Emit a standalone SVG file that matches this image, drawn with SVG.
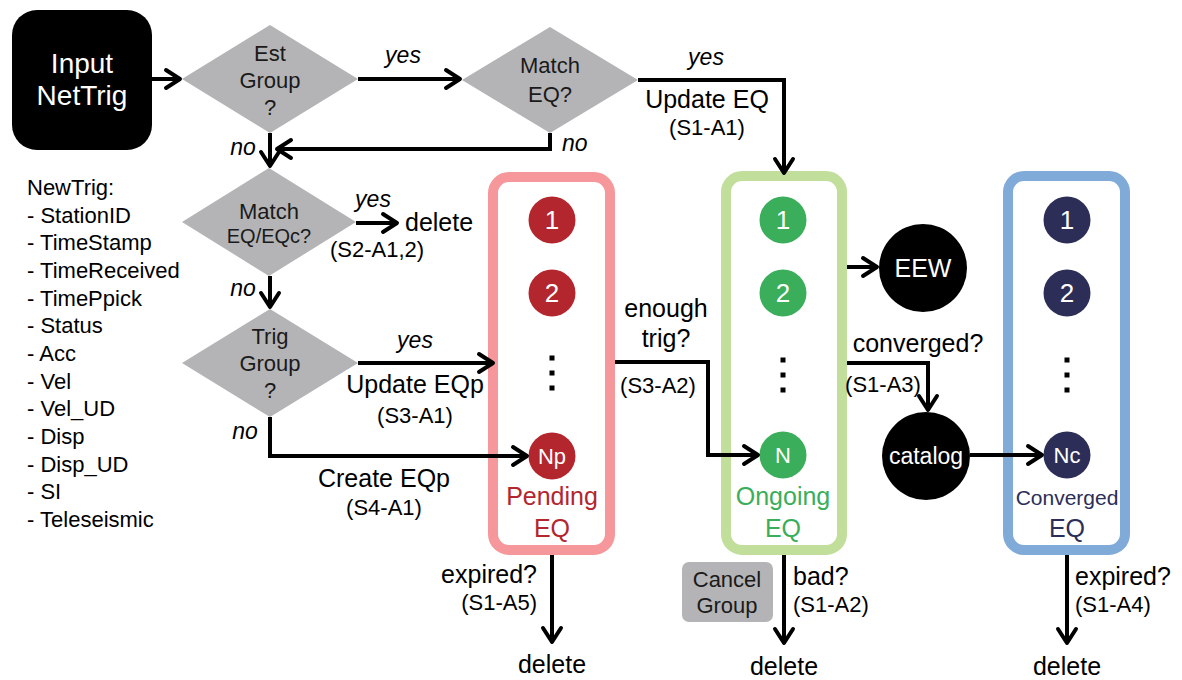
<svg xmlns="http://www.w3.org/2000/svg" width="1182" height="680" viewBox="0 0 1182 680">
<defs>
<marker id="arr" markerUnits="userSpaceOnUse" viewBox="-17 -12 19 24" markerWidth="19" markerHeight="24" refX="0" refY="0" orient="auto" overflow="visible">
<path d="M-14,-9 L0,0 L-14,9" fill="none" stroke="#000" stroke-width="4" stroke-linecap="round" stroke-linejoin="round"/>
</marker>
<style>
text{font-family:"Liberation Sans",Arial,sans-serif;fill:#000}
.c{text-anchor:middle}
.e{text-anchor:end}
.dia{fill:#b4b4b6}
.dt{font-size:22px;fill:#1a1a1a;text-anchor:middle}
.lbl{font-size:25px}
.ref{font-size:22px}
.it{font-size:23px;font-style:italic}
.w{fill:#fff;text-anchor:middle}
.ln{fill:none;stroke:#000;stroke-width:4;marker-end:url(#arr)}
.pk{fill:#b3262e}
.gr{fill:#3aae5a}
.nv{fill:#2c2e57}
.dot{fill:#000}
.list{font-size:22px}
</style>
</defs>
<rect width="1182" height="680" fill="#fff"/>

<g id="input">
<rect x="12" y="10" width="140" height="140" rx="25" fill="#000"/>
<text x="82" y="73" class="w" font-size="28">Input</text>
<text x="82" y="105" class="w" font-size="28">NetTrig</text>
</g>

<g id="newtrig" class="list">
<text x="27" y="195" class="list">NewTrig:</text>
<text x="27" y="223" class="list">- StationID</text>
<text x="27" y="250" class="list">- TimeStamp</text>
<text x="27" y="278" class="list">- TimeReceived</text>
<text x="27" y="306" class="list">- TimePpick</text>
<text x="27" y="333" class="list">- Status</text>
<text x="27" y="361" class="list">- Acc</text>
<text x="27" y="389" class="list">- Vel</text>
<text x="27" y="416" class="list">- Vel_UD</text>
<text x="27" y="444" class="list">- Disp</text>
<text x="27" y="472" class="list">- Disp_UD</text>
<text x="27" y="499" class="list">- SI</text>
<text x="27" y="527" class="list">- Teleseismic</text>
</g>

<g id="estgroup">
<polygon class="dia" points="270,25 358,79 270,133 182,79"/>
<text x="270" y="61" class="dt">Est</text>
<text x="270" y="88" class="dt">Group</text>
<text x="270" y="115" class="dt">?</text>
</g>

<g id="matcheq">
<polygon class="dia" points="550,27 638,80 550,133 462,80"/>
<text x="550" y="73" class="dt">Match</text>
<text x="550" y="102" class="dt">EQ?</text>
</g>

<g id="matcheqc">
<polygon class="dia" points="269,168 356,222 269,276 182,222"/>
<text x="269" y="219" class="dt">Match</text>
<text x="269" y="243" class="dt" font-size="20" style="font-size:20px">EQ/EQc?</text>
</g>

<g id="triggroup">
<polygon class="dia" points="270,309 358,363 270,417 182,363"/>
<text x="270" y="344" class="dt">Trig</text>
<text x="270" y="371" class="dt">Group</text>
<text x="270" y="398" class="dt">?</text>
</g>

<g id="pending">
<rect x="493" y="177" width="117" height="373" rx="16" fill="none" stroke="#f5979b" stroke-width="10"/>
<circle cx="552" cy="220" r="23.5" class="pk"/>
<text x="552" y="229" class="w" font-size="26">1</text>
<circle cx="552" cy="293" r="23.5" class="pk"/>
<text x="552" y="302" class="w" font-size="26">2</text>
<rect x="549.5" y="355.5" width="5" height="5" class="dot"/>
<rect x="549.5" y="370.5" width="5" height="5" class="dot"/>
<rect x="549.5" y="385.5" width="5" height="5" class="dot"/>
<circle cx="552" cy="456" r="23.5" class="pk"/>
<text x="552" y="464" class="w" font-size="22">Np</text>
<text x="552" y="505" class="c" font-size="25" style="fill:#b3262e">Pending</text>
<text x="552" y="537" class="c" font-size="25" style="fill:#b3262e">EQ</text>
</g>

<g id="ongoing">
<rect x="726" y="176" width="116" height="374" rx="16" fill="none" stroke="#c2de9b" stroke-width="10"/>
<circle cx="783" cy="220" r="23.5" class="gr"/>
<text x="783" y="229" class="w" font-size="26">1</text>
<circle cx="783" cy="293" r="23.5" class="gr"/>
<text x="783" y="302" class="w" font-size="26">2</text>
<rect x="780.5" y="357.5" width="5" height="5" class="dot"/>
<rect x="780.5" y="372.5" width="5" height="5" class="dot"/>
<rect x="780.5" y="387.5" width="5" height="5" class="dot"/>
<circle cx="783" cy="455" r="23.5" class="gr"/>
<text x="783" y="463" class="w" font-size="22">N</text>
<text x="783" y="505" class="c" font-size="25" style="fill:#3aae5a">Ongoing</text>
<text x="783" y="537" class="c" font-size="25" style="fill:#3aae5a">EQ</text>
</g>

<g id="converged">
<rect x="1008" y="176" width="117" height="374" rx="16" fill="none" stroke="#80aad8" stroke-width="10"/>
<circle cx="1067" cy="220" r="23.5" class="nv"/>
<text x="1067" y="229" class="w" font-size="26">1</text>
<circle cx="1067" cy="293" r="23.5" class="nv"/>
<text x="1067" y="302" class="w" font-size="26">2</text>
<rect x="1064.5" y="357.5" width="5" height="5" class="dot"/>
<rect x="1064.5" y="372.5" width="5" height="5" class="dot"/>
<rect x="1064.5" y="387.5" width="5" height="5" class="dot"/>
<circle cx="1067" cy="455" r="23.5" class="nv"/>
<text x="1067" y="463" class="w" font-size="22">Nc</text>
<text x="1067" y="505" class="c" font-size="21" style="fill:#2c2e57">Converged</text>
<text x="1067" y="537" class="c" font-size="25" style="fill:#2c2e57">EQ</text>
</g>

<g id="eew">
<circle cx="923" cy="268" r="44" fill="#000"/>
<text x="923" y="277" class="w" font-size="25">EEW</text>
</g>

<g id="catalog">
<circle cx="926" cy="456" r="44" fill="#000"/>
<text x="926" y="464" class="w" font-size="23">catalog</text>
</g>

<g id="cancelgroup">
<rect x="682" y="562" width="91" height="60" rx="7" fill="#b4b4b6"/>
<text x="727" y="587" class="c" font-size="22" style="fill:#1a1a1a">Cancel</text>
<text x="727" y="613" class="c" font-size="22" style="fill:#1a1a1a">Group</text>
</g>

<g id="connectors">
<path class="ln" d="M152,79 H180"/>
<path class="ln" d="M358,79 H460"/>
<path class="ln" d="M638,80 H784 V173"/>
<path class="ln" d="M550,133 V149 H277"/>
<path class="ln" d="M270,133 V166"/>
<path class="ln" d="M356,223 H397"/>
<path class="ln" d="M270,276 V307"/>
<path class="ln" d="M358,363 H493"/>
<path class="ln" d="M270,417 V456 H527"/>
<path class="ln" d="M615,362 H708 V455 H758"/>
<path class="ln" d="M847,267 H877"/>
<path class="ln" d="M847,363 H928 V410"/>
<path class="ln" d="M970,455 H1042"/>
<path class="ln" d="M552,555 V642"/>
<path class="ln" d="M784,555 V643"/>
<path class="ln" d="M1067,555 V643"/>
</g>

<g id="labels">
<text x="403" y="63" class="it c">yes</text>
<text x="243" y="155" class="it c">no</text>
<text x="706" y="65" class="it c">yes</text>
<text x="707" y="108" class="lbl c">Update EQ</text>
<text x="707" y="135" class="ref c">(S1-A1)</text>
<text x="562" y="151" class="it">no</text>
<text x="373" y="207" class="it c">yes</text>
<text x="405" y="231" class="lbl">delete</text>
<text x="377" y="257" class="ref c">(S2-A1,2)</text>
<text x="243" y="296" class="it c">no</text>
<text x="415" y="348" class="it c">yes</text>
<text x="415" y="393" class="lbl c">Update EQp</text>
<text x="415" y="423" class="ref c">(S3-A1)</text>
<text x="245" y="439" class="it c">no</text>
<text x="384" y="487" class="lbl c">Create EQp</text>
<text x="384" y="515" class="ref c">(S4-A1)</text>
<text x="666" y="317" class="lbl c">enough</text>
<text x="666" y="347" class="lbl c">trig?</text>
<text x="658" y="393" class="ref c">(S3-A2)</text>
<text x="918" y="352" class="lbl c">converged?</text>
<text x="883" y="392" class="ref c">(S1-A3)</text>
<text x="537" y="583" class="lbl e">expired?</text>
<text x="537" y="610" class="ref e">(S1-A5)</text>
<text x="552" y="673" class="lbl c">delete</text>
<text x="793" y="585" class="lbl">bad?</text>
<text x="793" y="612" class="ref">(S1-A2)</text>
<text x="784" y="675" class="lbl c">delete</text>
<text x="1075" y="585" class="lbl">expired?</text>
<text x="1075" y="612" class="ref">(S1-A4)</text>
<text x="1067" y="675" class="lbl c">delete</text>
</g>
</svg>
